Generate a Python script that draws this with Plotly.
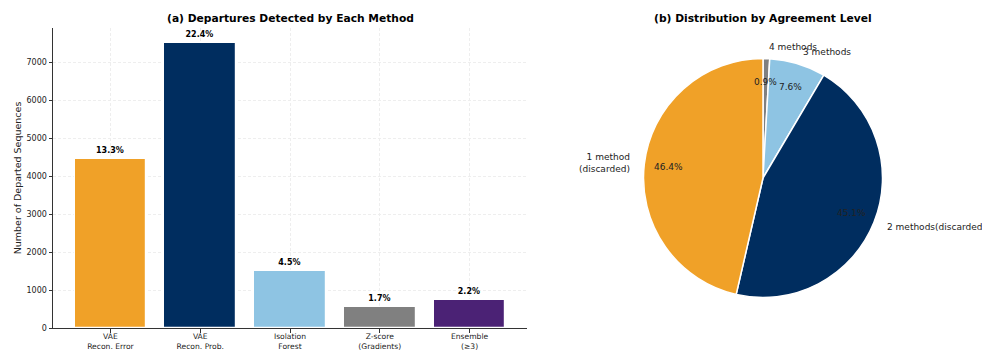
import math
import plotly.graph_objects as go

# --- data -------------------------------------------------------------
methods = ["VAE<br>Recon. Error", "VAE<br>Recon. Prob.", "Isolation<br>Forest",
           "Z-score<br>(Gradients)", "Ensemble<br>(≥3)"]
departed_counts = [4460, 7510, 1510, 560, 730]
total_sequences = 33500
bar_colors = ["#F0A128", "#002D5F", "#8EC4E3", "#808080", "#4B2275"]

agreement_labels = ["1 method<br>(discarded)", "2 methods(discarded)", "3 methods", "4 methods"]
agreement_share = [46.4, 45.1, 7.6, 0.9]
pie_colors = ["#F0A128", "#002D5F", "#8EC4E3", "#808080"]

y_ticks = [0, 1000, 2000, 3000, 4000, 5000, 6000, 7000]

# --- canvas -----------------------------------------------------------
W, H = 982, 351
FONT = "DejaVu Sans"
TXT = "#222222"

pct_labels = [f"{100 * c / total_sequences:.1f}%" for c in departed_counts]

fig = go.Figure()

fig.add_trace(go.Bar(
    x=list(range(len(methods))),
    y=departed_counts,
    marker=dict(color=bar_colors, line=dict(color="white", width=1.2)),
    width=0.8,
    text=pct_labels,
    textposition="outside",
    textfont=dict(family=FONT, size=8, color="black", weight="bold"),
    cliponaxis=False,
    showlegend=False,
    xaxis="x", yaxis="y",
))

# pie placement (pixels); slices run counter-clockwise from 12 o'clock,
# which plotly draws as the reversed sequence going clockwise
cx, cy, r = 763, 178, 119.5
fig.add_trace(go.Pie(
    values=agreement_share[::-1],
    labels=agreement_labels[::-1],
    marker=dict(colors=pie_colors[::-1], line=dict(color="white", width=1.5)),
    sort=False,
    direction="clockwise",
    rotation=0,
    textinfo="none",
    textposition="none",
    hoverinfo="label+percent",
    showlegend=False,
    domain=dict(x=[(cx - r) / W, (cx + r) / W], y=[(H - cy - r) / H, (H - cy + r) / H]),
))

annotations = []
total_share = sum(agreement_share)
start = 90.0
for lab, v in zip(agreement_labels, agreement_share):
    sweep = 360.0 * v / total_share
    mid = math.radians(start + sweep / 2)
    start += sweep
    # percentage inside wedge
    px = cx + 0.8 * r * math.cos(mid)
    py = cy - 0.8 * r * math.sin(mid)
    annotations.append(dict(
        x=px / W, y=1 - py / H, xref="paper", yref="paper",
        text=f"{v / total_share * 100:.1f}%", showarrow=False,
        xanchor="center", yanchor="middle",
        font=dict(family=FONT, size=9, color=TXT),
    ))
    # category label outside wedge
    lx = cx + 1.1 * r * math.cos(mid)
    ly = cy - 1.1 * r * math.sin(mid)
    right = math.cos(mid) >= 0
    annotations.append(dict(
        x=lx / W, y=1 - ly / H, xref="paper", yref="paper",
        text=lab, showarrow=False,
        xanchor="left" if right else "right", yanchor="middle",
        align="left" if right else "right",
        font=dict(family=FONT, size=9, color=TXT),
    ))

# titles
annotations.append(dict(
    x=290 / W, y=1 - 18 / H, xref="paper", yref="paper",
    text="<b>(a) Departures Detected by Each Method</b>", showarrow=False,
    xanchor="center", yanchor="middle", font=dict(family=FONT, size=10.7, color="black"),
))
annotations.append(dict(
    x=cx / W, y=1 - 18 / H, xref="paper", yref="paper",
    text="<b>(b) Distribution by Agreement Level</b>", showarrow=False,
    xanchor="center", yanchor="middle", font=dict(family=FONT, size=10.7, color="black"),
))

ax_left, ax_right, ax_top, ax_bottom = 53, 527, 28, 328

grid = dict(showgrid=True, gridcolor="#eeeeee", griddash="3px,2px", gridwidth=0.6)

fig.update_layout(
    width=W, height=H,
    margin=dict(l=0, r=0, t=0, b=0),
    paper_bgcolor="white", plot_bgcolor="white",
    font=dict(family=FONT, color=TXT),
    bargap=0,
    annotations=annotations,
    xaxis=dict(
        domain=[ax_left / W, ax_right / W],
        range=[-0.64, 4.64],
        tickmode="array", tickvals=list(range(len(methods))), ticktext=methods,
        tickfont=dict(family=FONT, size=7.6, color=TXT),
        ticklabelstandoff=-3,
        showline=True, linecolor="#333333", linewidth=1,
        ticks="outside", ticklen=3.5, tickcolor="#333333",
        zeroline=False, fixedrange=True, automargin=False,
        **grid,
    ),
    yaxis=dict(
        domain=[(H - ax_bottom) / H, (H - ax_top) / H],
        range=[0, 7895],
        tickmode="array", tickvals=y_ticks, ticktext=[str(t) for t in y_ticks],
        tickfont=dict(family=FONT, size=8, color=TXT),
        showline=True, linecolor="#333333", linewidth=1,
        ticks="outside", ticklen=3.5, tickcolor="#333333",
        zeroline=False, fixedrange=True, automargin=False,
        title=dict(text="Number of Departed Sequences",
                   font=dict(family=FONT, size=9.5, color=TXT), standoff=3),
        **grid,
    ),
)

fig.write_html("out.html")
